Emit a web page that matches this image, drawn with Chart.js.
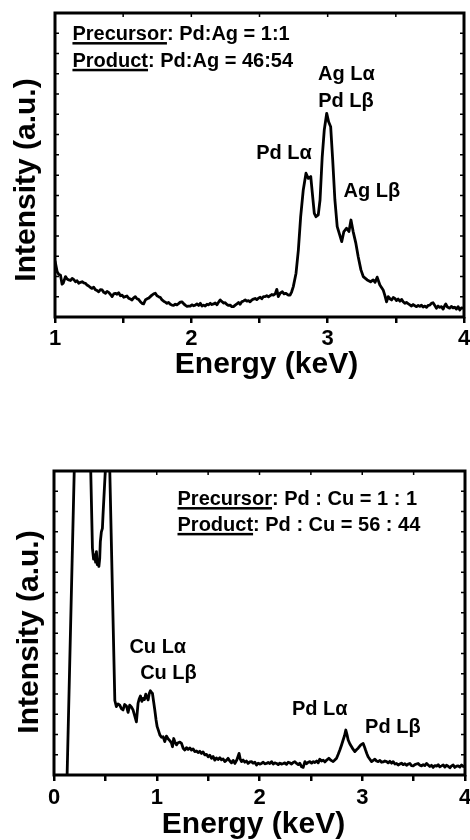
<!DOCTYPE html>
<html>
<head>
<meta charset="utf-8">
<script src="https://cdn.jsdelivr.net/npm/chart.js@4.4.1/dist/chart.umd.min.js"></script>
<style>
  html, body { margin: 0; padding: 0; background: #fff; }
  .panel { position: relative; width: 470px; height: 420px; }
</style>
</head>
<body>
<div class="panel"><canvas id="agChart" width="470" height="420"></canvas></div>
<div class="panel"><canvas id="cuChart" width="470" height="420"></canvas></div>
<script>
const FONT = '"Liberation Sans", Arial, sans-serif';

// Pd-Ag sample, 1–4 keV
const agEnergy = [
  1.000, 1.016, 1.028, 1.040, 1.052, 1.060, 1.077, 1.089, 1.101, 1.114, 1.126, 1.138, 1.150, 1.162, 1.174, 1.187,
  1.199, 1.211, 1.223, 1.235, 1.247, 1.260, 1.272, 1.284, 1.296, 1.309, 1.321, 1.333, 1.346, 1.358, 1.370, 1.382,
  1.394, 1.407, 1.419, 1.431, 1.443, 1.455, 1.467, 1.480, 1.492, 1.504, 1.516, 1.528, 1.540, 1.553, 1.565, 1.577,
  1.589, 1.601, 1.613, 1.626, 1.638, 1.650, 1.663, 1.675, 1.687, 1.699, 1.711, 1.724, 1.736, 1.748, 1.760, 1.773,
  1.785, 1.797, 1.809, 1.821, 1.833, 1.846, 1.858, 1.870, 1.882, 1.894, 1.906, 1.919, 1.931, 1.943, 1.955, 1.968,
  1.980, 1.992, 2.004, 2.017, 2.029, 2.041, 2.054, 2.066, 2.078, 2.090, 2.102, 2.115, 2.127, 2.139, 2.151, 2.163,
  2.175, 2.188, 2.200, 2.212, 2.224, 2.236, 2.248, 2.261, 2.273, 2.285, 2.297, 2.309, 2.322, 2.334, 2.346, 2.358,
  2.370, 2.383, 2.395, 2.407, 2.419, 2.431, 2.444, 2.456, 2.468, 2.480, 2.492, 2.505, 2.517, 2.529, 2.541, 2.553,
  2.566, 2.578, 2.590, 2.602, 2.615, 2.627, 2.638, 2.651, 2.668, 2.680, 2.692, 2.712, 2.724, 2.736, 2.748, 2.768,
  2.785, 2.802, 2.821, 2.841, 2.858, 2.876, 2.890, 2.902, 2.914, 2.931, 2.944, 2.960, 2.975, 2.993, 3.007, 3.022,
  3.037, 3.053, 3.070, 3.085, 3.103, 3.119, 3.139, 3.156, 3.171, 3.187, 3.207, 3.224, 3.244, 3.261, 3.290, 3.315,
  3.334, 3.348, 3.363, 3.383, 3.407, 3.419, 3.432, 3.444, 3.457, 3.469, 3.481, 3.493, 3.505, 3.517, 3.530, 3.542,
  3.554, 3.566, 3.578, 3.590, 3.603, 3.615, 3.627, 3.640, 3.652, 3.664, 3.676, 3.688, 3.700, 3.713, 3.725, 3.737,
  3.749, 3.761, 3.773, 3.786, 3.798, 3.810, 3.822, 3.835, 3.847, 3.859, 3.866, 3.878, 3.895, 3.907, 3.920, 3.932,
  3.944, 3.957, 3.969, 3.981, 3.993, 4.000
];
const agCounts = [
  18.5, 14.9, 14.0, 13.8, 10.8, 11.1, 13.3, 12.5, 12.2, 12.0, 12.7, 12.3, 11.6, 11.9, 11.1, 11.4,
  11.6, 11.2, 11.1, 10.5, 10.2, 9.7, 9.4, 9.8, 9.0, 8.7, 8.3, 9.0, 8.9, 8.1, 7.8, 8.4,
  8.1, 7.4, 6.7, 7.6, 7.8, 7.5, 8.0, 7.0, 7.2, 6.5, 6.7, 6.9, 6.2, 5.9, 5.6, 6.3,
  6.7, 6.0, 5.8, 5.0, 4.5, 4.3, 5.6, 6.0, 6.2, 6.7, 7.2, 7.6, 7.8, 7.0, 6.7, 6.4,
  5.6, 5.2, 4.9, 4.5, 4.8, 4.2, 3.9, 3.8, 4.2, 4.0, 4.4, 4.9, 5.0, 4.4, 3.9, 3.5,
  3.6, 3.6, 4.0, 3.7, 3.9, 4.3, 3.8, 4.5, 3.6, 3.9, 3.6, 4.2, 4.0, 4.5, 4.1, 4.3,
  4.6, 4.0, 4.9, 5.6, 5.1, 4.6, 4.7, 4.1, 3.8, 3.9, 3.4, 3.4, 3.9, 4.3, 4.8, 4.2,
  5.0, 5.3, 5.6, 5.2, 5.4, 5.0, 5.6, 5.9, 6.1, 5.7, 6.2, 6.5, 6.0, 6.7, 6.7, 7.0,
  6.6, 7.0, 7.4, 7.2, 7.6, 9.1, 6.7, 7.8, 8.3, 7.6, 7.8, 7.2, 7.2, 8.3, 10.0, 14.4,
  22.0, 33.0, 41.8, 47.3, 45.6, 46.2, 39.6, 34.1, 33.0, 33.6, 38.5, 52.7, 61.5, 67.0, 64.2, 62.6,
  51.6, 38.5, 29.7, 27.5, 24.8, 28.1, 29.2, 28.1, 31.9, 28.1, 24.2, 19.8, 15.5, 13.3, 12.2, 11.6,
  12.2, 11.4, 13.1, 10.5, 8.9, 7.2, 5.0, 6.7, 6.0, 5.6, 6.4, 6.1, 5.4, 5.9, 5.2, 5.8,
  5.0, 4.5, 4.8, 4.4, 4.0, 3.6, 4.1, 3.7, 3.4, 3.8, 3.5, 3.9, 3.3, 3.6, 3.2, 3.8,
  3.9, 4.5, 4.7, 3.8, 2.9, 3.6, 3.2, 3.4, 2.6, 3.8, 4.3, 3.3, 2.9, 3.5, 3.0, 3.2,
  2.6, 3.4, 2.3, 3.0, 2.9, 2.7
];

// Pd-Cu sample, 0–4 keV (the low-energy peaks run off the top)
const cuEnergy = [
  0.100, 0.280, 0.374, 0.385, 0.396, 0.405, 0.413, 0.421, 0.429, 0.437, 0.445, 0.451, 0.461, 0.471, 0.477, 0.530,
  0.592, 0.607, 0.623, 0.640, 0.656, 0.672, 0.688, 0.705, 0.721, 0.737, 0.753, 0.769, 0.785, 0.802, 0.818, 0.830,
  0.841, 0.855, 0.867, 0.880, 0.893, 0.905, 0.916, 0.927, 0.938, 0.948, 0.958, 0.970, 0.981, 0.993, 1.004, 1.017,
  1.030, 1.046, 1.062, 1.078, 1.094, 1.110, 1.127, 1.143, 1.153, 1.165, 1.175, 1.192, 1.207, 1.225, 1.241, 1.257,
  1.273, 1.290, 1.305, 1.322, 1.338, 1.354, 1.370, 1.387, 1.402, 1.419, 1.435, 1.451, 1.467, 1.484, 1.500, 1.516,
  1.533, 1.549, 1.565, 1.581, 1.597, 1.614, 1.630, 1.646, 1.662, 1.679, 1.694, 1.711, 1.727, 1.744, 1.760, 1.780,
  1.801, 1.813, 1.825, 1.841, 1.857, 1.873, 1.889, 1.906, 1.922, 1.938, 1.955, 1.971, 1.987, 2.003, 2.020, 2.036,
  2.052, 2.068, 2.084, 2.100, 2.117, 2.133, 2.149, 2.166, 2.182, 2.198, 2.214, 2.231, 2.246, 2.263, 2.279, 2.296,
  2.312, 2.328, 2.344, 2.361, 2.377, 2.392, 2.410, 2.425, 2.442, 2.458, 2.474, 2.490, 2.507, 2.524, 2.539, 2.556,
  2.571, 2.587, 2.604, 2.620, 2.636, 2.654, 2.675, 2.697, 2.717, 2.735, 2.750, 2.766, 2.782, 2.798, 2.814, 2.828,
  2.840, 2.852, 2.863, 2.880, 2.896, 2.912, 2.928, 2.944, 2.960, 2.986, 3.009, 3.020, 3.032, 3.045, 3.057, 3.074,
  3.091, 3.107, 3.123, 3.139, 3.155, 3.172, 3.188, 3.203, 3.220, 3.237, 3.252, 3.269, 3.285, 3.301, 3.318, 3.334,
  3.350, 3.366, 3.382, 3.398, 3.415, 3.431, 3.447, 3.463, 3.479, 3.496, 3.512, 3.528, 3.544, 3.561, 3.577, 3.593,
  3.609, 3.626, 3.642, 3.658, 3.674, 3.690, 3.707, 3.723, 3.739, 3.755, 3.772, 3.788, 3.804, 3.820, 3.836, 3.853,
  3.869, 3.885, 3.901, 3.918, 3.934, 3.950, 3.967, 3.983, 4.000
];
const cuCounts = [
  -40, 220, 74.6, 71.0, 72.4, 70.0, 73.5, 69.2, 70.7, 68.6, 71.3, 76.8, 80.0, 81.1, 85.5, 120,
  24.5, 22.5, 23.4, 23.0, 21.8, 21.4, 23.2, 22.7, 20.6, 23.0, 22.4, 21.4, 19.5, 17.5, 23.6, 25.1,
  26.0, 24.2, 25.2, 24.8, 26.6, 25.5, 24.7, 26.8, 27.7, 27.2, 26.9, 24.0, 21.4, 18.2, 15.9, 14.6,
  13.2, 12.4, 12.6, 11.0, 12.8, 11.9, 11.3, 10.6, 9.3, 12.0, 11.0, 9.9, 10.6, 10.8, 10.4, 8.8,
  8.2, 9.0, 8.4, 8.9, 8.2, 8.6, 7.7, 7.9, 7.4, 7.8, 7.1, 7.6, 6.6, 6.8, 6.0, 6.5,
  5.5, 6.1, 4.9, 5.6, 5.1, 5.7, 5.0, 5.3, 4.4, 4.9, 5.5, 4.6, 4.0, 4.8, 3.8, 5.0,
  7.1, 5.2, 4.4, 4.9, 4.2, 4.6, 3.8, 4.3, 4.4, 3.9, 4.2, 3.3, 3.9, 3.6, 3.8, 4.2,
  3.7, 3.8, 4.1, 3.8, 4.4, 3.6, 4.0, 3.8, 3.4, 3.9, 3.6, 3.8, 4.0, 3.5, 4.2, 4.0,
  3.6, 4.1, 4.4, 3.8, 3.4, 3.9, 2.7, 2.5, 4.4, 3.7, 4.2, 4.4, 3.9, 4.4, 4.1, 4.6,
  4.0, 5.2, 4.6, 4.9, 4.3, 4.9, 5.5, 4.8, 4.4, 5.0, 5.5, 6.8, 8.2, 9.8, 11.5, 13.0,
  14.8, 13.2, 11.5, 10.2, 9.3, 8.4, 7.7, 8.3, 8.8, 9.9, 10.4, 9.4, 8.2, 7.0, 6.0, 5.2,
  4.4, 4.8, 5.2, 4.6, 4.4, 4.8, 4.2, 4.3, 4.6, 4.4, 4.0, 4.5, 3.9, 4.4, 3.6, 3.8,
  3.3, 3.6, 3.9, 3.4, 3.7, 3.2, 3.6, 3.8, 3.1, 3.0, 3.4, 3.6, 3.8, 3.2, 3.0, 3.4,
  3.1, 3.8, 3.3, 2.8, 3.2, 2.5, 3.1, 2.9, 3.4, 2.7, 3.0, 3.3, 2.6, 3.2, 2.9, 2.4,
  3.0, 3.3, 2.5, 2.9, 3.0, 2.6, 3.3, 2.8, 3.0
];

const agTickLabels = [1, 2, 3, 4];
const cuTickLabels = [0, 1, 2, 3, 4];

const agRatio = [["Precursor", ": Pd:Ag = 1:1"], ["Product", ": Pd:Ag = 46:54"]];
const cuRatio = [["Precursor", ": Pd : Cu = 1 : 1"], ["Product", ": Pd : Cu = 56 : 44"]];
const agPeaks = ["Ag Lα", "Pd Lβ", "Pd Lα", "Ag Lβ"];
const cuPeaks = ["Cu Lα", "Cu Lβ", "Pd Lα", "Pd Lβ"];

// frame, inner minor ticks, peak names, composition box and axis titles
const specDecor = {
  id: "specDecor",
  afterDatasetsDraw(chart, args, o) {
    const { ctx, chartArea: a, scales: { x, y } } = chart;
    ctx.save();
    ctx.strokeStyle = "#000";
    ctx.lineWidth = 3;
    ctx.strokeRect(a.left, a.top, a.right - a.left, a.bottom - a.top);

    ctx.lineWidth = 1.5;
    ctx.beginPath();
    for (let e = x.min + 0.5; e < x.max; e += 0.5) {
      const px = x.getPixelForValue(e);
      ctx.moveTo(px, a.top);
      ctx.lineTo(px, a.top + 4);
    }
    for (let i = 1; i < 15; i++) {
      const py = y.getPixelForValue(y.min + ((y.max - y.min) * i) / 15);
      ctx.moveTo(a.left, py);
      ctx.lineTo(a.left + 4, py);
      ctx.moveTo(a.right, py);
      ctx.lineTo(a.right - 4, py);
    }
    ctx.stroke();

    ctx.fillStyle = "#000";
    ctx.font = `bold 20px ${FONT}`;
    ctx.textBaseline = "alphabetic";
    ctx.textAlign = "left";
    o.ratio.forEach(([word, rest], i) => {
      const px = x.getPixelForValue(o.ratioAt[0]);
      const py = y.getPixelForValue(o.ratioAt[i + 1]);
      ctx.fillText(word + rest, px, py);
      ctx.fillRect(px, py + 2, ctx.measureText(word).width, 2.5);
    });
    ctx.textAlign = "center";
    o.peaks.forEach((name, i) => {
      const [e, v] = o.peakAt[i];
      ctx.fillText(name, x.getPixelForValue(e), y.getPixelForValue(v));
    });

    ctx.font = `bold 30px ${FONT}`;
    ctx.textBaseline = "middle";
    ctx.fillText("Energy (keV)", o.xTitle[0], o.xTitle[1]);
    ctx.translate(o.yTitle[0], o.yTitle[1]);
    ctx.rotate(-Math.PI / 2);
    ctx.fillText("Intensity (a.u.)", 0, 0);
    ctx.restore();
  },
};

function spectrum(id, energy, counts, xMin, tickLabels, pad, axisHeight, labelPad, decor) {
  return new Chart(document.getElementById(id), {
    type: "line",
    data: {
      datasets: [{
        data: energy.map((e, i) => ({ x: e, y: counts[i] })),
        borderColor: "#000",
        borderWidth: 2.8,
        borderJoinStyle: "round",
        pointRadius: 0,
        tension: 0,
      }],
    },
    options: {
      responsive: false,
      animation: false,
      devicePixelRatio: 1,
      layout: { padding: pad },
      plugins: { legend: { display: false }, tooltip: { enabled: false }, specDecor: decor },
      scales: {
        x: {
          type: "linear",
          min: xMin,
          max: 4,
          afterFit: (s) => { s.height = axisHeight; s.paddingLeft = 0; s.paddingRight = 0; },
          ticks: {
            stepSize: 0.5,
            autoSkip: false,
            maxRotation: 0,
            padding: labelPad,
            color: "#000",
            font: { family: FONT, size: 22, weight: "bold" },
            callback: (v) => (tickLabels.includes(v) ? String(v) : ""),
          },
          grid: { drawOnChartArea: false, drawTicks: true, tickLength: 6, color: "#000", lineWidth: 2.5 },
          border: { display: false },
        },
        y: { display: false, min: 0, max: 100 },
      },
    },
    plugins: [specDecor],
  });
}

spectrum("agChart", agEnergy, agCounts, 1, agTickLabels,
  { left: 55, right: 6, top: 13, bottom: 0 }, 103, 3, {
    ratio: agRatio,
    ratioAt: [1.128, 91.1, 82.3],
    peaks: agPeaks,
    peakAt: [[3.138, 78], [3.134, 69], [2.68, 51.9], [3.324, 39.6]],
    xTitle: [266.5, 365],
    yTitle: [27, 180],
  });

spectrum("cuChart", cuEnergy, cuCounts, 0, cuTickLabels,
  { left: 54, right: 5, top: 51, bottom: 0 }, 65, 4, {
    ratio: cuRatio,
    ratioAt: [1.202, 88.8, 80.3],
    peaks: cuPeaks,
    peakAt: [[1.01, 40.2], [1.114, 31.5], [2.587, 19.7], [3.298, 13.9]],
    xTitle: [253.5, 405],
    yTitle: [30, 212],
  });
</script>
</body>
</html>
